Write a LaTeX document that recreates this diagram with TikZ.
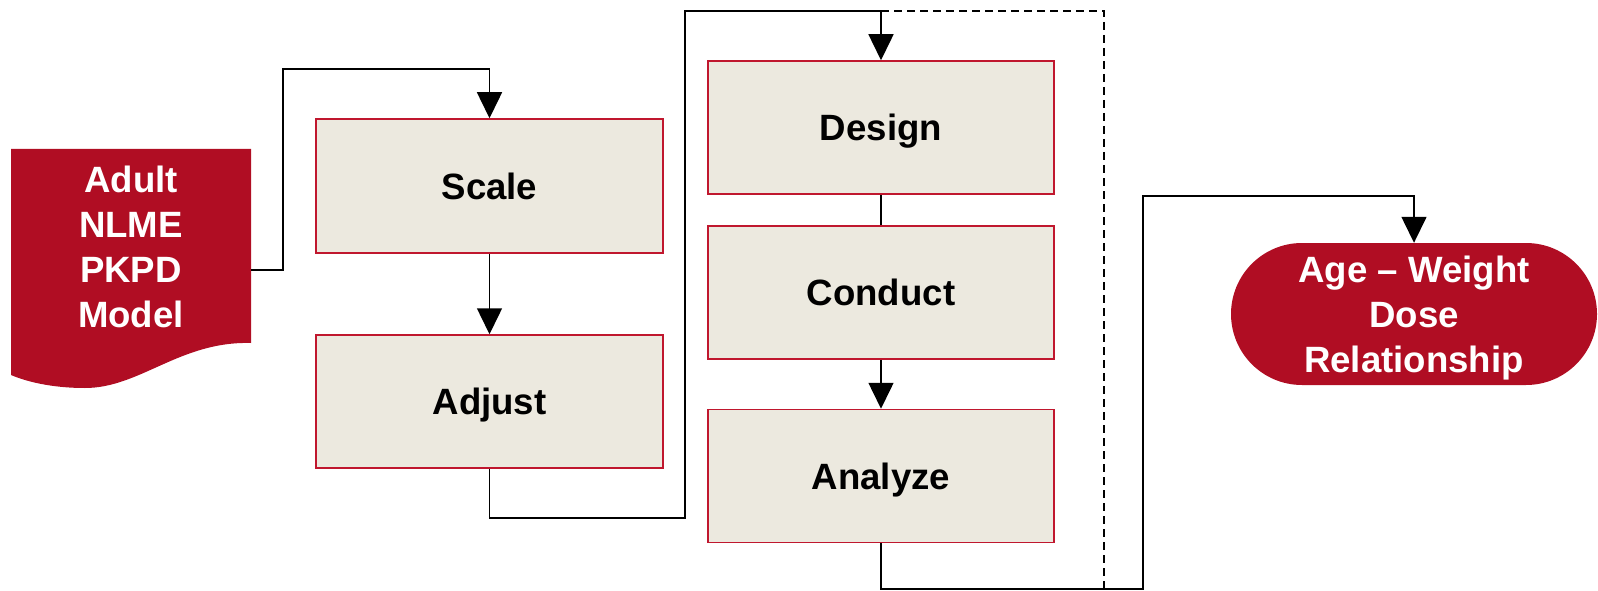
\documentclass[tikz,border=0pt]{standalone}
\usepackage{fontspec}
\setmainfont{Liberation Sans}
\usetikzlibrary{arrows.meta,shapes.misc}
\definecolor{dred}{HTML}{B00D23}
\definecolor{boxfill}{HTML}{ECE9DF}
\definecolor{boxline}{HTML}{C0172E}
\begin{document}
\begin{tikzpicture}[x=1pt,y=-1pt,
  lbl/.style={font=\bfseries\fontsize{36.6}{45}\selectfont, align=center},
  stepbox/.style={lbl, draw=boxline, fill=boxfill, line width=1.5pt,
    minimum width=346pt, minimum height=133pt, inner sep=0pt, text=black,
    text height=26.5pt, text depth=0pt},
  conn/.style={line width=1.5pt, black},
  arr/.style={conn, -{Triangle[length=26pt,width=25pt]}},
  dashconn/.style={conn, dashed, dash pattern=on 8pt off 5pt}]
\useasboundingbox (0,0) rectangle (1598,591);

% document shape
\fill[dred] (11,149) -- (251,149) -- (251,343)
  .. controls (180,341) and (140,388) .. (85,388)
  .. controls (50,388) and (25,381) .. (11,375) -- cycle;
\node[lbl, text=white, minimum width=240pt, minimum height=194pt, inner sep=0pt]
  (doc) at (131,247) {Adult\\NLME\\PKPD\\Model};

\node[stepbox, minimum width=347pt, minimum height=134pt] (scale) at (489.5,186) {Scale};
\node[stepbox, minimum width=347pt] (adjust) at (489.5,401.5) {Adjust};
\node[stepbox] (design) at (881,127.5) {Design};
\node[stepbox] (conduct) at (881,292.5) {Conduct};
\node[stepbox] (analyze) at (881,476) {Analyze};

\node[lbl, rounded rectangle, fill=dred, text=white, minimum width=366pt,
  minimum height=142pt, inner sep=0pt, text depth=0pt] (result) at (1414,314)
  {Age -- Weight\\Dose\\Relationship};

\coordinate (topY) at (0,11);
\coordinate (botY) at (0,589);

\draw[arr] ([yshift=-23pt]doc.east) -| (283,69) -| (scale.north);
\draw[arr] (scale.south) -- (adjust.north);
\draw[arr] (adjust.south) |- (685,518) |- (design.north |- topY) -- (design.north);
\draw[dashconn] (design.north |- topY) -- (1104,11) -- (1104,589);
\draw[conn] (design.south) -- (conduct.north);
\draw[arr] (conduct.south) -- (analyze.north);
\draw[arr] (analyze.south) |- (1143,589) -- (1143,196) -| (result.north);
\end{tikzpicture}
\end{document}
